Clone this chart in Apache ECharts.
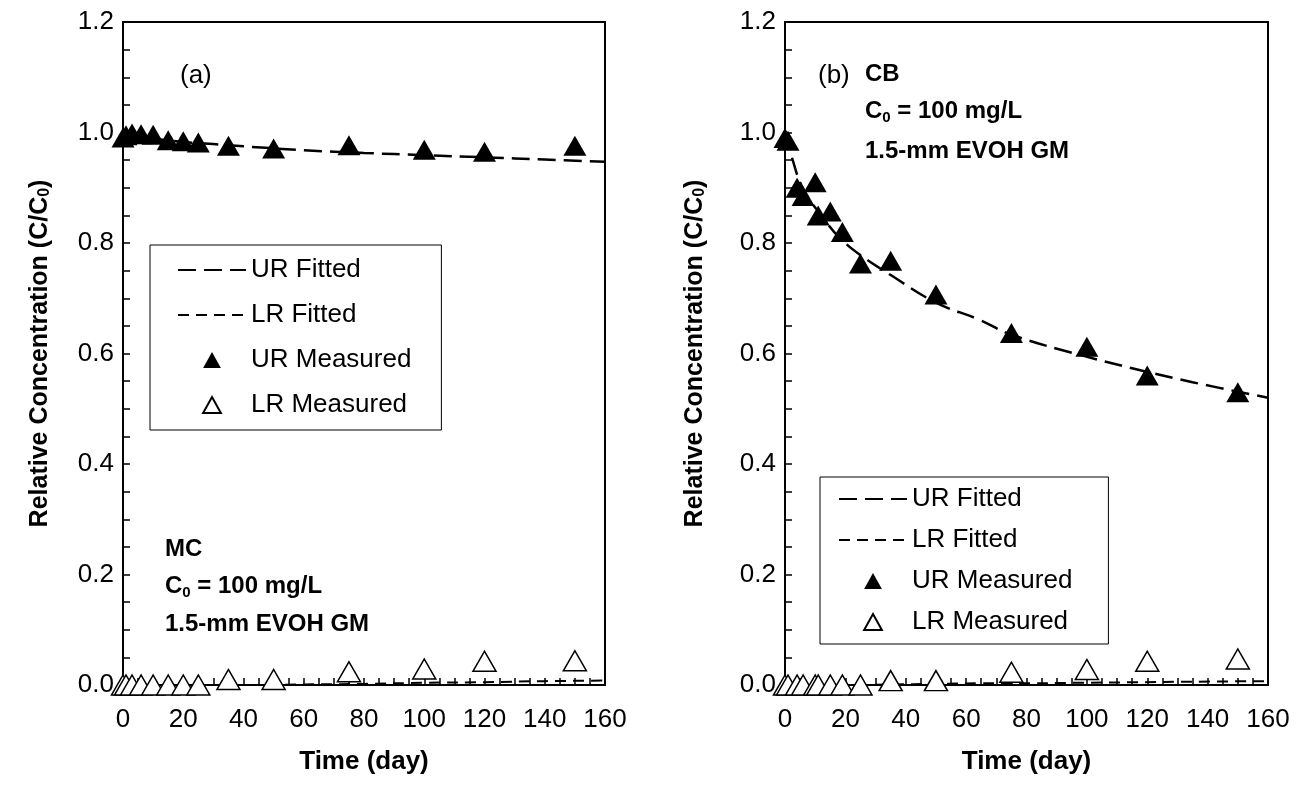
<!DOCTYPE html>
<html>
<head>
<meta charset="utf-8">
<script src="https://cdn.jsdelivr.net/npm/echarts@6/dist/echarts.min.js"></script>
<style>
html,body{margin:0;padding:0;background:#fff;}
#c{width:1313px;height:787px;}
</style>
</head>
<body>
<div id="c"></div>
<script>
// ---- Data ----
// Panel (a): MC
const aMeasTime   = [0, 1, 3, 6, 10, 15, 20, 25, 35, 50, 75, 100, 120, 150];
const aURMeasured = [0.991, 0.995, 0.998, 0.997, 0.996, 0.986, 0.984, 0.982, 0.976, 0.971, 0.977, 0.969, 0.965, 0.976];
const aLRMeasured = [0.0, 0.0, 0.0, 0.0, 0.0, 0.0, 0.0, 0.0, 0.010, 0.010, 0.024, 0.029, 0.043, 0.044];
const aFitTime    = [0, 5, 10, 20, 30, 40, 60, 80, 100, 120, 140, 160];
const aURFitted   = [1.0, 0.993, 0.989, 0.983, 0.979, 0.975, 0.968, 0.963, 0.959, 0.955, 0.951, 0.947];
const aLRFitted   = [0.0, 0.0, 0.0, 0.0, 0.0, 0.0, 0.001, 0.002, 0.004, 0.005, 0.007, 0.008];

// Panel (b): CB
const bMeasTime   = [0, 1, 4, 6, 10, 11, 15, 19, 25, 35, 50, 75, 100, 120, 150];
const bURMeasured = [0.99, 0.985, 0.90, 0.885, 0.91, 0.85, 0.857, 0.82, 0.763, 0.768, 0.707, 0.637, 0.612, 0.56, 0.53];
const bLRMeasured = [0.0, 0.0, 0.0, 0.0, 0.0, 0.0, 0.0, 0.0, 0.0, 0.008, 0.008, 0.023, 0.028, 0.043, 0.047];
const bFitTime    = [0, 2, 6, 13, 18, 25, 35, 50, 64, 75, 98, 116, 135, 160];
const bURFitted   = [1.0, 0.96, 0.898, 0.843, 0.81, 0.778, 0.742, 0.692, 0.662, 0.634, 0.597, 0.572, 0.548, 0.52];
const bLRFitted   = [0.0, 0.0, 0.0, 0.0, 0.0, 0.0, 0.001, 0.002, 0.003, 0.003, 0.004, 0.005, 0.006, 0.007];

const xTicks = [0, 20, 40, 60, 80, 100, 120, 140, 160];
const yTicks = [0.0, 0.2, 0.4, 0.6, 0.8, 1.0, 1.2];
const seriesNames = ['UR Fitted', 'LR Fitted', 'UR Measured', 'LR Measured'];

// ---- Chart ----
const FONT = 'Liberation Sans, Arial, sans-serif';
const pair = (xs, ys) => xs.map((x, i) => [x, ys[i]]);
const triPath = 'path://M5,0 L10,9 L0,9 Z';

function xAxisFor(gi) {
  return {
    type: 'value', gridIndex: gi, min: xTicks[0], max: xTicks[xTicks.length - 1], interval: 20,
    axisLine: {show: true, onZero: false, lineStyle: {color: '#000', width: 2}},
    axisTick: {show: true, inside: true, length: 7, lineStyle: {color: '#000', width: 1.5}},
    minorTick: {show: true, splitNumber: 4, length: 7, lineStyle: {color: '#000', width: 1.5}},
    splitLine: {show: false}, minorSplitLine: {show: false},
    axisLabel: {color: '#000', fontSize: 26, fontFamily: FONT, margin: 22},
    name: 'Time (day)', nameLocation: 'middle', nameGap: 64,
    nameTextStyle: {color: '#000', fontSize: 26, fontWeight: 'bold', fontFamily: FONT}
  };
}
function yAxisFor(gi, gap) {
  return {
    type: 'value', gridIndex: gi, min: yTicks[0], max: yTicks[yTicks.length - 1], interval: 0.2,
    axisLine: {show: true, onZero: false, lineStyle: {color: '#000', width: 2}},
    axisTick: {show: true, inside: true, length: 7, lineStyle: {color: '#000', width: 1.5}},
    minorTick: {show: true, splitNumber: 4, length: 7, lineStyle: {color: '#000', width: 1.5}},
    splitLine: {show: false}, minorSplitLine: {show: false},
    axisLabel: {color: '#000', fontSize: 26, fontFamily: FONT, margin: 9,
                formatter: v => v.toFixed(1)},
    name: '{t|Relative Concentration (C/C}{s|0}{t|)}', nameLocation: 'middle', nameGap: gap,
    nameRotate: 90,
    nameTextStyle: {
      rich: {
        t: {color: '#000', fontSize: 25, fontWeight: 'bold', fontFamily: FONT},
        s: {color: '#000', fontSize: 16, fontWeight: 'bold', fontFamily: FONT, verticalAlign: 'bottom', padding: [10, 0, 0, 0]}
      }
    }
  };
}

function seriesFor(gi, fitT, urFit, lrFit, measT, urMeas, lrMeas) {
  return [
    {name: 'UR Fitted', type: 'line', xAxisIndex: gi, yAxisIndex: gi, smooth: 0.4, symbol: 'none',
     data: pair(fitT, urFit), itemStyle: {color: 'rgba(0,0,0,0)'},
     lineStyle: {color: '#000', width: 2.5, type: [18, 8]}, z: 2, silent: true},
    {name: 'LR Fitted', type: 'line', xAxisIndex: gi, yAxisIndex: gi, smooth: 0.4, symbol: 'none',
     data: pair(fitT, lrFit), itemStyle: {color: 'rgba(0,0,0,0)'},
     lineStyle: {color: '#000', width: 2, type: [11, 7]}, z: 2, silent: true},
    {name: 'UR Measured', type: 'scatter', xAxisIndex: gi, yAxisIndex: gi, symbol: triPath, symbolKeepAspect: false,
     symbolSize: [23, 20], data: pair(measT, urMeas), itemStyle: {color: '#000', opacity: 1}, z: 4},
    {name: 'LR Measured', type: 'scatter', xAxisIndex: gi, yAxisIndex: gi, symbol: triPath, symbolKeepAspect: false,
     symbolSize: [23, 20], data: pair(measT, lrMeas),
     itemStyle: {color: '#fff', borderColor: '#000', borderWidth: 1.5, opacity: 1}, z: 3}
  ];
}

function legendFor(left, top, padding, gap) {
  return {
    orient: 'vertical', left: left, top: top, padding: padding, itemGap: gap,
    itemWidth: 68, itemHeight: 16, selectedMode: false,
    borderColor: '#000', borderWidth: 1, backgroundColor: '#fff',
    textStyle: {color: '#000', fontSize: 26, fontFamily: FONT, lineHeight: 30},
    data: [
      {name: 'UR Fitted', itemStyle: {opacity: 0}},
      {name: 'LR Fitted', itemStyle: {opacity: 0}},
      {name: 'UR Measured', icon: triPath},
      {name: 'LR Measured', icon: triPath}
    ],
    symbolKeepAspect: true
  };
}

const boldText = (x, y, txt) => ({
  type: 'text', left: x, top: y,
  style: {
    text: txt, font: 'bold 24px ' + FONT, fill: '#000',
    rich: {
      b: {font: 'bold 24px ' + FONT, fill: '#000'},
      s: {font: 'bold 15px ' + FONT, fill: '#000', padding: [14, 0, 0, 0]}
    }
  }
});

const chart = echarts.init(document.getElementById('c'), null, {renderer: 'canvas'});
chart.setOption({
  backgroundColor: '#fff',
  animation: false,
  grid: [
    {left: 123, right: 708, top: 22, bottom: 102, show: true, borderColor: '#000', borderWidth: 2, backgroundColor: 'transparent'},
    {left: 785, right: 45, top: 22, bottom: 102, show: true, borderColor: '#000', borderWidth: 2, backgroundColor: 'transparent'}
  ],
  xAxis: [xAxisFor(0), xAxisFor(1)],
  yAxis: [yAxisFor(0, 70), yAxisFor(1, 77)],
  legend: [
    legendFor(150, 245, [10, 30, 10, 27], 15),
    legendFor(820, 477, [7, 36, 7, 18], 11)
  ],
  series: [].concat(
    seriesFor(0, aFitTime, aURFitted, aLRFitted, aMeasTime, aURMeasured, aLRMeasured),
    seriesFor(1, bFitTime, bURFitted, bLRFitted, bMeasTime, bURMeasured, bLRMeasured)
  ),
  graphic: [
    {type: 'text', left: 180, top: 63, style: {text: '(a)', font: '26px ' + FONT, fill: '#000'}},
    {type: 'text', left: 818, top: 63, style: {text: '(b)', font: '26px ' + FONT, fill: '#000'}},
    boldText(165, 537, '{b|MC}'),
    boldText(165, 574, '{b|C}{s|0}{b| = 100 mg/L}'),
    boldText(165, 612, '{b|1.5-mm EVOH GM}'),
    boldText(865, 62, '{b|CB}'),
    boldText(865, 99, '{b|C}{s|0}{b| = 100 mg/L}'),
    boldText(865, 139, '{b|1.5-mm EVOH GM}')
  ]
});
</script>
</body>
</html>
